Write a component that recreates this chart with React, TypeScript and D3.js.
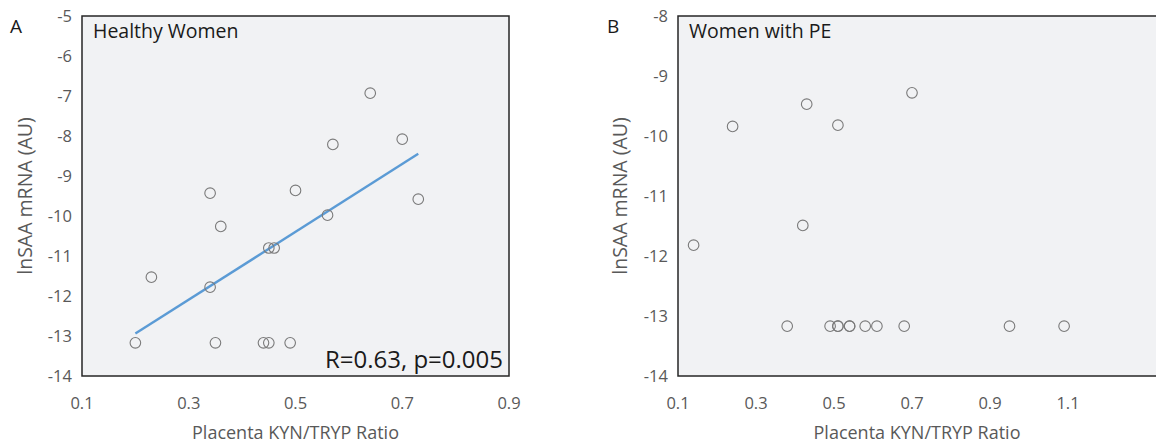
import React from "react";
import * as d3 from "d3";

// Panel A: Healthy Women
const healthyX = [0.20, 0.23, 0.34, 0.36, 0.34, 0.35, 0.44, 0.45, 0.49, 0.45, 0.46, 0.50, 0.56, 0.57, 0.64, 0.70, 0.73];
const healthyY = [-13.17, -11.53, -9.43, -10.26, -11.78, -13.17, -13.17, -13.17, -13.17, -10.8, -10.8, -9.36, -9.98, -8.21, -6.93, -8.08, -9.58];

// Panel B: Women with PE
const peX = [0.14, 0.24, 0.43, 0.51, 0.70, 0.42, 0.38, 0.49, 0.51, 0.51, 0.54, 0.54, 0.58, 0.61, 0.68, 0.95, 1.09];
const peY = [-11.82, -9.84, -9.47, -9.82, -9.28, -11.49, -13.17, -13.17, -13.17, -13.17, -13.17, -13.17, -13.17, -13.17, -13.17, -13.17, -13.17];

const xTicksA = [0.1, 0.3, 0.5, 0.7, 0.9];
const yTicksA = [-5, -6, -7, -8, -9, -10, -11, -12, -13, -14];
const xTicksB = [0.1, 0.3, 0.5, 0.7, 0.9, 1.1];
const yTicksB = [-8, -9, -10, -11, -12, -13, -14];

const statText = "R=0.63, p=0.005";
const xTitle = "Placenta KYN/TRYP Ratio";
const yTitle = "lnSAA mRNA (AU)";

const FONT = "'Open Sans', 'Noto Sans', sans-serif";
const TICK_COLOR = "#595959";

function regression(xs: number[], ys: number[]) {
  const mx = d3.mean(xs)!;
  const my = d3.mean(ys)!;
  let sxy = 0, sxx = 0;
  xs.forEach((x, i) => { sxy += (x - mx) * (ys[i] - my); sxx += (x - mx) ** 2; });
  const slope = sxy / sxx;
  return { slope, intercept: my - slope * mx };
}

type PanelProps = {
  letter: string;
  title: string;
  xs: number[];
  ys: number[];
  xDomain: [number, number];
  xRange: [number, number];
  yDomain: [number, number];
  xTicks: number[];
  yTicks: number[];
  trend?: boolean;
  stat?: string;
  letterX: number;
  yTitleX: number;
  fmtY: (v: number) => string;
};

function Panel(p: PanelProps) {
  const top = 16, bottom = 376;
  const x = d3.scaleLinear().domain(p.xDomain).range(p.xRange);
  const y = d3.scaleLinear().domain(p.yDomain).range([bottom, top]);
  const left = p.xRange[0], right = p.xRange[1];
  let trendPath: string | null = null;
  if (p.trend) {
    const { slope, intercept } = regression(p.xs, p.ys);
    const ext = d3.extent(p.xs) as [number, number];
    trendPath = d3.line<number>().x((v) => x(v)).y((v) => y(slope * v + intercept))(ext);
  }
  const cx = (left + Math.min(right, 1156)) / 2;
  return (
    <g>
      <rect x={left} y={top} width={right - left} height={bottom - top} fill="#f1f2f4" stroke="#262626" strokeWidth={1.5} />
      {p.yTicks.map((t) => (
        <text key={"y" + t} x={left - 10} y={y(t)} dy="0.35em" textAnchor="end" fontSize={16.5} fill={TICK_COLOR} fontFamily={FONT}>
          {p.fmtY(t)}
        </text>
      ))}
      {p.xTicks.map((t) => (
        <text key={"x" + t} x={x(t)} y={403} dy="0.35em" textAnchor="middle" fontSize={16.5} fill={TICK_COLOR} fontFamily={FONT}>
          {d3.format(".1f")(t)}
        </text>
      ))}
      {trendPath && <path d={trendPath} fill="none" stroke="#5b9bd5" strokeWidth={2.4} />}
      {p.xs.map((v, i) => (
        <circle key={i} cx={x(v)} cy={y(p.ys[i])} r={5.3} fill="none" stroke="#7a7a7a" strokeWidth={1.1} />
      ))}
      <text x={left + 11} y={38} fontSize={19.5} fill="#1a1a1a" fontFamily={FONT}>{p.title}</text>
      {p.stat && (
        <text x={right - 6} y={368} textAnchor="end" fontSize={24} fill="#1a1a1a" fontFamily={FONT}>{p.stat}</text>
      )}
      <text x={p.letterX} y={33} fontSize={19} fill="#1a1a1a" fontFamily={FONT}>{p.letter}</text>
      <text x={cx} y={433} dy="0.35em" textAnchor="middle" fontSize={18} fill={TICK_COLOR} fontFamily={FONT}>{xTitle}</text>
      <text transform={`translate(${p.yTitleX},${(top + bottom) / 2}) rotate(-90)`} dy="0.35em" textAnchor="middle" fontSize={19.5} fill={TICK_COLOR} fontFamily={FONT}>
        {yTitle}
      </text>
    </g>
  );
}

export default function App() {
  const fmt = (v: number) => String(v);
  return (
    <svg width={1156} height={446} style={{ position: "absolute", left: 0, top: 0, background: "#ffffff" }}>
      <Panel
        letter="A" title="Healthy Women" xs={healthyX} ys={healthyY}
        xDomain={[0.1, 0.9]} xRange={[82, 509]} yDomain={[-14, -5]}
        xTicks={xTicksA} yTicks={yTicksA} trend stat={statText}
        letterX={10} yTitleX={25} fmtY={fmt}
      />
      <Panel
        letter="B" title="Women with PE" xs={peX} ys={peY}
        xDomain={[0.1, 1.5]} xRange={[678, 1224]} yDomain={[-14, -8]}
        xTicks={xTicksB} yTicks={yTicksB}
        letterX={607} yTitleX={620} fmtY={fmt}
      />
    </svg>
  );
}
